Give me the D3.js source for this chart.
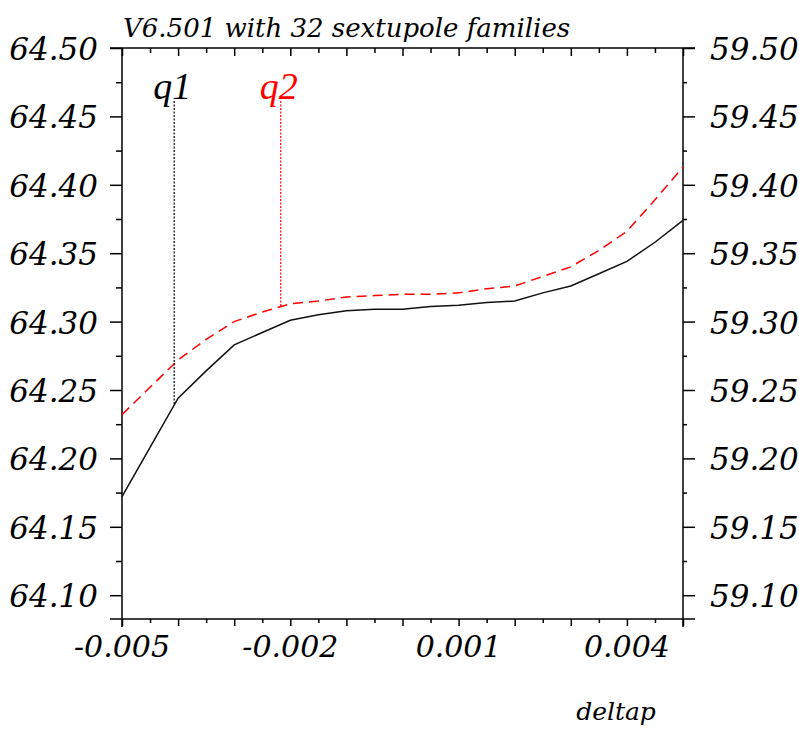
<!DOCTYPE html>
<html>
<head>
<meta charset="utf-8">
<script src="https://cdn.jsdelivr.net/npm/d3@7"></script>
<style>
  body { margin: 0; background: #fff; }
  text { font-family: "DejaVu Serif", serif; font-style: italic; fill: #000; }
</style>
</head>
<body>
<script>
var deltap = [-0.005, -0.0045, -0.004, -0.0035, -0.003, -0.0025, -0.002, -0.0015, -0.001, -0.0005,
              0, 0.0005, 0.001, 0.0015, 0.002, 0.0025, 0.003, 0.0035, 0.004, 0.0045, 0.005];
var q1 = [64.172, 64.208, 64.244, 64.264, 64.283, 64.292, 64.301, 64.305, 64.308, 64.309,
          64.309, 64.311, 64.312, 64.314, 64.315, 64.321, 64.326, 64.335, 64.344, 64.358, 64.374];
var q2 = [59.232, 59.252, 59.272, 59.287, 59.300, 59.307, 59.313, 59.315, 59.318, 59.319,
          59.320, 59.320, 59.321, 59.324, 59.326, 59.333, 59.340, 59.352, 59.366, 59.389, 59.413];

var leftTicks = [64.10, 64.15, 64.20, 64.25, 64.30, 64.35, 64.40, 64.45, 64.50];
var rightTicks = [59.10, 59.15, 59.20, 59.25, 59.30, 59.35, 59.40, 59.45, 59.50];
var xLabelTicks = [-0.005, -0.002, 0.001, 0.004];
var markers = [{name: "q1", x: -0.00407, color: "#000"}, {name: "q2", x: -0.00217, color: "#ff0000"}];
var title = "V6.501 with 32 sextupole families";
var xTitle = "deltap";

var svgWidth = 799, svgHeight = 729;
var plot = {left: 122, right: 683, top: 48, bottom: 619};

var svg = d3.select("body").append("svg").attr("width", svgWidth).attr("height", svgHeight);
svg.append("rect").attr("width", svgWidth).attr("height", svgHeight).attr("fill", "#fff");

var x = d3.scaleLinear().domain([-0.005, 0.005]).range([plot.left, plot.right]);
var yL = d3.scaleLinear().domain([64.50 - (plot.bottom - plot.top) / 1368, 64.50]).range([plot.bottom, plot.top]);
var yR = d3.scaleLinear().domain([59.50 - (plot.bottom - plot.top) / 1368, 59.50]).range([plot.bottom, plot.top]);

var xMajor = d3.range(-0.005, 0.00501, 0.001).map(function(d) { return +d.toFixed(4); });
var xMinor = d3.range(-0.0045, 0.005, 0.001).map(function(d) { return +d.toFixed(4); });
var yMinorL = leftTicks.map(function(d) { return d + 0.025; }).filter(function(d) { return d < 64.5; });
var yMinorR = yMinorL.map(function(d) { return d - 5; });

function axisStyle(g) {
  g.select(".domain").remove();
  g.selectAll(".tick line").attr("stroke", "#000").attr("stroke-width", 1.5);
}

// frame lines
var frame = svg.append("g").attr("stroke", "#000").attr("stroke-width", 1.5);
frame.append("line").attr("x1", 110).attr("x2", 695).attr("y1", plot.top).attr("y2", plot.top);
frame.append("line").attr("x1", 110).attr("x2", 695).attr("y1", plot.bottom).attr("y2", plot.bottom);
frame.append("line").attr("x1", plot.left).attr("x2", plot.left).attr("y1", plot.top).attr("y2", plot.bottom + 8);
frame.append("line").attr("x1", plot.right).attr("x2", plot.right).attr("y1", plot.top).attr("y2", plot.bottom + 8);

// bottom axis
svg.append("g").attr("transform", "translate(0," + plot.bottom + ")")
  .call(d3.axisBottom(x).tickValues(xMajor).tickSize(7).tickFormat("")).call(axisStyle);
svg.append("g").attr("transform", "translate(0," + plot.bottom + ")")
  .call(d3.axisBottom(x).tickValues(xMinor).tickSize(4).tickFormat("")).call(axisStyle);
svg.selectAll(".xlab").data(xLabelTicks).enter().append("text")
  .attr("x", function(d) { return x(d); })
  .attr("y", 657)
  .attr("text-anchor", "middle")
  .attr("font-size", "30px")
  .text(function(d) { return d.toFixed(3); });

// top axis (ticks inward)
svg.append("g").attr("transform", "translate(0," + plot.top + ")")
  .call(d3.axisTop(x).tickValues(xMajor).tickSize(-8).tickFormat("")).call(axisStyle);
svg.append("g").attr("transform", "translate(0," + plot.top + ")")
  .call(d3.axisTop(x).tickValues(xMinor).tickSize(-5).tickFormat("")).call(axisStyle);

// left axis
svg.append("g").attr("transform", "translate(" + plot.left + ",0)")
  .call(d3.axisLeft(yL).tickValues(leftTicks).tickSize(12).tickFormat("")).call(axisStyle);
svg.append("g").attr("transform", "translate(" + plot.left + ",0)")
  .call(d3.axisLeft(yL).tickValues(yMinorL).tickSize(6).tickFormat("")).call(axisStyle);
svg.selectAll(".ylab").data(leftTicks).enter().append("text")
  .attr("x", 98)
  .attr("y", function(d) { return yL(d) + 12; })
  .attr("text-anchor", "end")
  .attr("font-size", "31px")
  .text(function(d) { return d.toFixed(2); });

// right axis
svg.append("g").attr("transform", "translate(" + plot.right + ",0)")
  .call(d3.axisRight(yR).tickValues(rightTicks).tickSize(12).tickFormat("")).call(axisStyle);
svg.append("g").attr("transform", "translate(" + plot.right + ",0)")
  .call(d3.axisRight(yR).tickValues(yMinorR).tickSize(4).tickFormat("")).call(axisStyle);
svg.selectAll(".rlab").data(rightTicks).enter().append("text")
  .attr("x", 710)
  .attr("y", function(d) { return yR(d) + 12; })
  .attr("text-anchor", "start")
  .attr("font-size", "31px")
  .text(function(d) { return d.toFixed(2); });

// curves
var line1 = d3.line().x(function(d, i) { return x(deltap[i]); }).y(function(d) { return yL(d); });
var line2 = d3.line().x(function(d, i) { return x(deltap[i]); }).y(function(d) { return yR(d); });

svg.append("path").datum(q1).attr("d", line1)
  .attr("fill", "none").attr("stroke", "#111").attr("stroke-width", 1.5);
svg.append("path").datum(q2).attr("d", line2)
  .attr("fill", "none").attr("stroke", "#ff0000").attr("stroke-width", 1.5)
  .attr("stroke-dasharray", "10,6");

// marker lines with labels
function interp(xs, ys, v) {
  var i = d3.bisectRight(xs, v) - 1;
  i = Math.max(0, Math.min(xs.length - 2, i));
  var t = (v - xs[i]) / (xs[i + 1] - xs[i]);
  return ys[i] + t * (ys[i + 1] - ys[i]);
}
markers.forEach(function(m) {
  var yEnd = m.name === "q1" ? yL(interp(deltap, q1, m.x)) : yR(interp(deltap, q2, m.x));
  svg.append("line")
    .attr("x1", x(m.x)).attr("x2", x(m.x))
    .attr("y1", 101).attr("y2", yEnd)
    .attr("stroke", m.color).attr("stroke-width", 1.2)
    .attr("stroke-dasharray", "2,1.5");
  svg.append("text")
    .attr("x", x(m.x) - 2)
    .attr("y", 99)
    .attr("text-anchor", "middle")
    .style("font-family", "'Liberation Serif', serif")
    .style("font-size", "38px")
    .style("fill", m.color)
    .text(m.name);
});

// titles
svg.append("text").attr("x", 123).attr("y", 37)
  .attr("font-size", "26px").text(title);
svg.append("text").attr("x", 616).attr("y", 720)
  .attr("text-anchor", "middle")
  .attr("font-size", "25px").text(xTitle);
</script>
</body>
</html>
